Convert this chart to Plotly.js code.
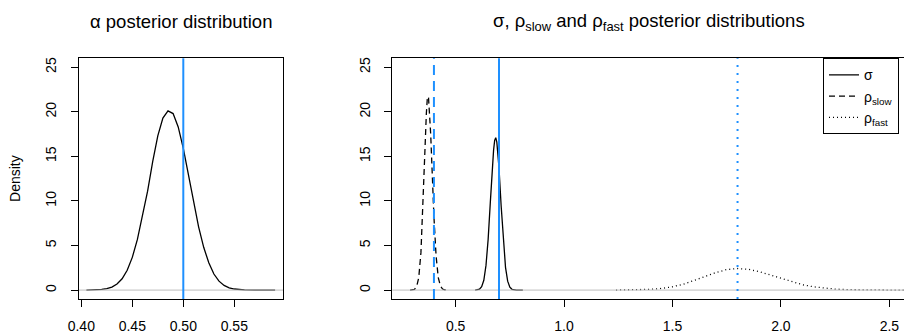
<!DOCTYPE html>
<html>
<head>
<meta charset="utf-8">
<script src="https://cdn.plot.ly/plotly-3.0.1.min.js"></script>
<style>
html, body { margin: 0; padding: 0; overflow: hidden; background: #fff; }
#chart { width: 940px; height: 334px; }
</style>
</head>
<body>
<div id="chart"></div>
<script>
// ---- data ----
const alphaX = [0.405,0.41,0.415,0.42,0.425,0.43,0.435,0.44,0.445,0.45,0.455,0.46,0.465,0.47,0.475,0.48,0.485,0.49,0.495,0.50,0.505,0.51,0.515,0.52,0.525,0.53,0.535,0.54,0.545,0.55,0.555,0.56,0.57,0.58,0.59];
const alphaY = [0.0,0.01,0.03,0.07,0.16,0.34,0.68,1.27,2.23,3.67,5.68,8.2,11.1,14.4,17.3,19.3,20.1,19.8,18.3,15.9,13.0,9.9,7.1,4.8,3.06,1.8,1.0,0.52,0.26,0.12,0.05,0.02,0.005,0.002,0.0];

const sigmaX = [0.59,0.60,0.61,0.62,0.63,0.64,0.65,0.66,0.67,0.675,0.68,0.685,0.69,0.70,0.71,0.72,0.73,0.74,0.75,0.76,0.77,0.78,0.79,0.81];
const sigmaY = [0.0,0.02,0.10,0.37,1.10,2.77,5.72,9.84,14.1,15.7,16.8,17.1,16.6,13.7,9.4,5.4,2.55,1.0,0.33,0.09,0.02,0.005,0.001,0.0];

const rhoSlowX = [0.29,0.30,0.31,0.32,0.33,0.34,0.35,0.355,0.36,0.365,0.37,0.375,0.38,0.385,0.39,0.395,0.40,0.41,0.42,0.43,0.44,0.45,0.46];
const rhoSlowY = [0.0,0.01,0.07,0.36,1.4,4.2,9.5,13.0,16.6,19.8,21.7,21.6,20.0,17.5,14.4,11.2,8.2,3.8,1.4,0.45,0.12,0.03,0.0];

const rhoFastX = [1.24,1.30,1.35,1.40,1.45,1.50,1.55,1.60,1.65,1.70,1.75,1.80,1.85,1.90,1.95,2.00,2.05,2.10,2.15,2.20,2.25,2.30,2.35,2.40,2.50,2.62];
const rhoFastY = [0.004,0.013,0.036,0.087,0.19,0.37,0.66,1.05,1.52,1.97,2.30,2.42,2.33,2.07,1.71,1.31,0.92,0.60,0.37,0.21,0.11,0.05,0.02,0.01,0.002,0.0];

const trueAlpha = 0.5;
const trueSigma = 0.7;
const trueRhoSlow = 0.4;
const trueRhoFast = 1.8;

const alphaTicks = [0.40,0.45,0.50,0.55];
const alphaTickText = ["0.40","0.45","0.50","0.55"];
const rightTicks = [0.5,1.0,1.5,2.0,2.5];
const rightTickText = ["0.5","1.0","1.5","2.0","2.5"];
const densTicks = [0,5,10,15,20,25];
const densTickText = ["0","5","10","15","20","25"];

const leftTitle = "α posterior distribution";
const rightTitle = "σ, ρ<sub>slow</sub> and ρ<sub>fast</sub> posterior distributions";
const yTitle = "Density";
const seriesNames = ["σ","ρ<sub>slow</sub>","ρ<sub>fast</sub>"];

// ---- drawing ----
const W = 940, H = 334;
const FONT = "Liberation Sans, Arial, Helvetica, sans-serif";
const BLUE = "#1E90FF";
const px = v => v / W;
const py = v => 1 - v / H;

const traces = [
  {x: alphaX, y: alphaY, xaxis: "x", yaxis: "y", mode: "lines", showlegend: false,
   line: {color: "black", width: 1.3}, hoverinfo: "skip"},
  {x: sigmaX, y: sigmaY, xaxis: "x2", yaxis: "y2", mode: "lines", name: seriesNames[0],
   line: {color: "black", width: 1.3, dash: "solid"}},
  {x: rhoSlowX, y: rhoSlowY, xaxis: "x2", yaxis: "y2", mode: "lines", name: seriesNames[1],
   line: {color: "black", width: 1.3, dash: "6px,4px"}},
  {x: rhoFastX, y: rhoFastY, xaxis: "x2", yaxis: "y2", mode: "lines", name: seriesNames[2],
   line: {color: "black", width: 1.3, dash: "1px,3px"}}
];

const axisCommon = {
  showline: true, linecolor: "black", linewidth: 1, mirror: true,
  ticks: "outside", ticklen: 7, tickwidth: 1, tickcolor: "black",
  showgrid: false, zeroline: false, tickfont: {family: FONT, size: 14, color: "black"},
  fixedrange: true
};

const yDomain = [py(299), py(58.3)];

const layout = {
  width: W, height: H,
  margin: {l: 0, r: 0, t: 0, b: 0},
  paper_bgcolor: "white", plot_bgcolor: "white",
  font: {family: FONT, size: 14, color: "black"},
  xaxis: Object.assign({}, axisCommon, {
    domain: [px(79), px(283)], range: [0.39775, 0.59775], anchor: "y",
    tickmode: "array", tickvals: alphaTicks, ticktext: alphaTickText, ticklabelstandoff: 7
  }),
  yaxis: Object.assign({}, axisCommon, {
    domain: yDomain, range: [-1, 26], anchor: "x",
    tickmode: "array", tickvals: densTicks, ticktext: densTickText, tickangle: -90,
    ticklabelstandoff: 9,
    title: {text: yTitle, standoff: 19, font: {family: FONT, size: 14, color: "black"}}
  }),
  xaxis2: Object.assign({}, axisCommon, {
    domain: [px(392.3), px(931)], range: [0.208, 2.692], anchor: "y2",
    tickmode: "array", tickvals: rightTicks, ticktext: rightTickText, ticklabelstandoff: 7
  }),
  yaxis2: Object.assign({}, axisCommon, {
    domain: yDomain, range: [-1, 26], anchor: "x2",
    tickmode: "array", tickvals: densTicks, ticktext: densTickText, tickangle: -90,
    ticklabelstandoff: 9
  }),
  showlegend: true,
  legend: {
    x: px(823), y: py(58.3), xanchor: "left", yanchor: "top",
    bordercolor: "black", borderwidth: 1, bgcolor: "white",
    font: {family: FONT, size: 14, color: "black"}, tracegroupgap: 0
  },
  shapes: [
    {type: "line", xref: "x domain", yref: "y", x0: 0, x1: 1, y0: 0, y1: 0, layer: "above",
     line: {color: "#BEBEBE", width: 1}},
    {type: "line", xref: "x2 domain", yref: "y2", x0: 0, x1: 1, y0: 0, y1: 0, layer: "above",
     line: {color: "#BEBEBE", width: 1}},
    {type: "line", xref: "x", yref: "y domain", x0: trueAlpha, x1: trueAlpha, y0: 0, y1: 1, layer: "above",
     line: {color: BLUE, width: 2}},
    {type: "line", xref: "x2", yref: "y2 domain", x0: trueSigma, x1: trueSigma, y0: 0, y1: 1, layer: "above",
     line: {color: BLUE, width: 2}},
    {type: "line", xref: "x2", yref: "y2 domain", x0: trueRhoSlow, x1: trueRhoSlow, y0: 0, y1: 1, layer: "above",
     line: {color: BLUE, width: 2, dash: "10px,6px"}},
    {type: "line", xref: "x2", yref: "y2 domain", x0: trueRhoFast, x1: trueRhoFast, y0: 0, y1: 1, layer: "above",
     line: {color: BLUE, width: 2, dash: "2px,6px"}}
  ],
  annotations: [
    {text: leftTitle, xref: "paper", yref: "paper", x: px(181), y: py(22),
     xanchor: "center", yanchor: "middle", showarrow: false,
     font: {family: FONT, size: 18.5, color: "black"}},
    {text: rightTitle, xref: "paper", yref: "paper", x: px(491), y: py(22),
     xanchor: "left", yanchor: "middle", showarrow: false,
     font: {family: FONT, size: 18.5, color: "black"}}
  ]
};

Plotly.newPlot("chart", traces, layout, {displayModeBar: false, staticPlot: true});
</script>
</body>
</html>
